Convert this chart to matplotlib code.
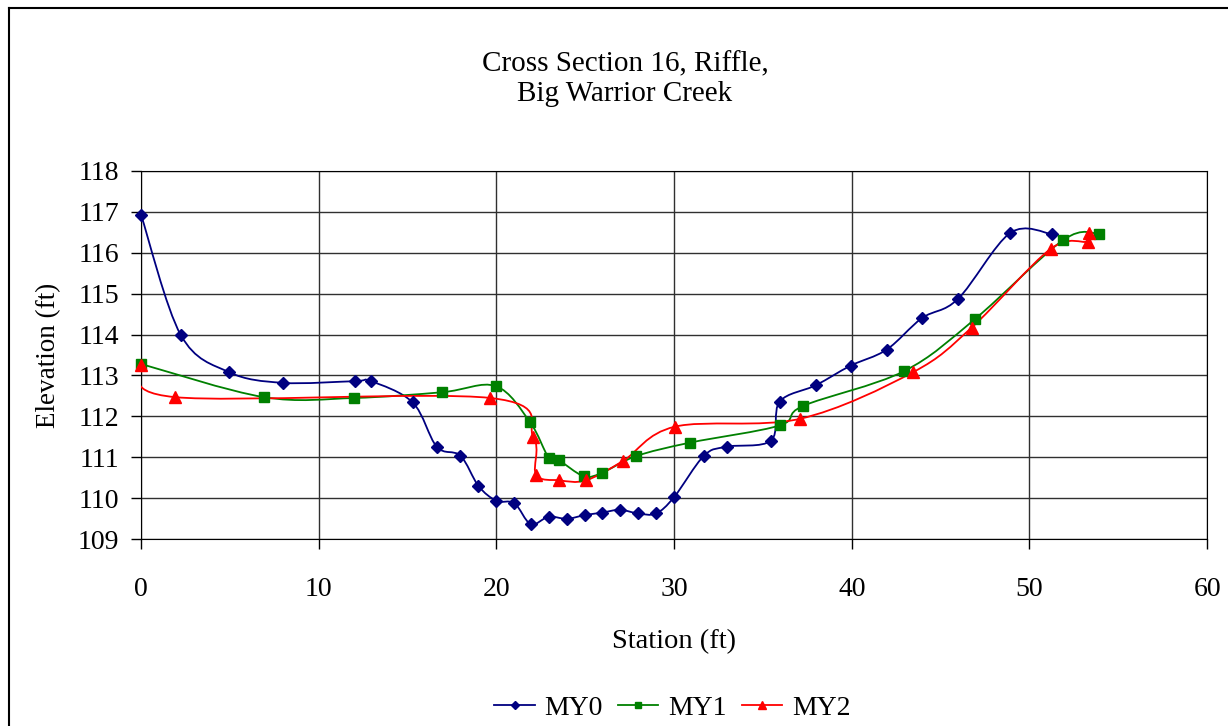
import numpy as np
import matplotlib
matplotlib.use('Agg')
import matplotlib.pyplot as plt
from matplotlib.path import Path
from matplotlib.patches import PathPatch
from matplotlib.lines import Line2D

plt.rcParams['font.family'] = ['Liberation Serif', 'DejaVu Serif']

# Dados
my0_x = [0, 2.23, 4.95, 7.97, 12.03, 12.94, 15.29, 16.64, 17.97, 18.99, 20.0, 21.01,
         21.93, 22.94, 23.96, 24.97, 25.94, 26.96, 27.97, 28.98, 30.0, 31.68, 32.95,
         35.45, 35.94, 37.97, 39.94, 41.96, 43.95, 45.98, 48.92, 51.27]
my0_y = [116.92, 113.99, 113.08, 112.82, 112.86, 112.86, 112.34, 111.26, 111.04, 110.30,
         109.94, 109.88, 109.37, 109.55, 109.50, 109.59, 109.65, 109.72, 109.63, 109.63,
         110.03, 111.04, 111.26, 111.41, 112.36, 112.76, 113.24, 113.63, 114.40, 114.87,
         116.48, 116.45]

my1_x = [0, 6.92, 11.99, 16.94, 19.96, 21.89, 22.94, 23.51, 24.91, 25.93, 27.86, 30.9,
         35.94, 37.28, 42.92, 46.94, 51.91, 53.92]
my1_y = [113.28, 112.47, 112.45, 112.59, 112.74, 111.86, 110.99, 110.93, 110.54, 110.62,
         111.03, 111.36, 111.78, 112.26, 113.10, 114.38, 116.31, 116.46]

my2_x = [0, 1.93, 19.65, 22.08, 22.23, 23.54, 25.04, 27.15, 30.05, 37.07, 43.45, 46.75,
         51.19, 53.29, 53.37]
my2_y = [113.25, 112.47, 112.45, 111.50, 110.58, 110.44, 110.44, 110.92, 111.75, 111.94,
         113.08, 114.17, 116.09, 116.27, 116.47]

series = [('MY0', my0_x, my0_y, '#000080', 'D', 6.0),
          ('MY1', my1_x, my1_y, '#008000', 's', 6.6),
          ('MY2', my2_x, my2_y, '#FF0000', '^', 8.2)]


def curva_suave(x, y):
    # Bezier tipo Catmull-Rom (linha suavizada do Excel)
    p = np.column_stack([x, y]).astype(float)
    n = len(p)
    verts = [p[0]]
    codes = [Path.MOVETO]
    for i in range(n - 1):
        p0 = p[i - 1] if i > 0 else p[i]
        p3 = p[i + 2] if i + 2 < n else p[i + 1]
        c1 = p[i] + (p[i + 1] - p0) / 6.0
        c2 = p[i + 1] - (p3 - p[i]) / 6.0
        verts += [c1, c2, p[i + 1]]
        codes += [Path.CURVE4] * 3
    return Path(verts, codes)


fig = plt.figure(figsize=(12.28, 7.26), dpi=100)
ax = fig.add_axes([0.1149, 0.2572, 0.8681, 0.5077])

handles = []
for nome, xs, ys, cor, mk, ms in series:
    ax.add_patch(PathPatch(curva_suave(xs, ys), facecolor='none', edgecolor=cor, lw=1.3, zorder=3))
    ax.plot(xs, ys, linestyle='none', marker=mk, color=cor, markersize=ms, zorder=4, clip_on=False)
    handles.append(Line2D([], [], color=cor, lw=1.3, marker=mk, markersize=ms * 0.75, label=nome))

ax.set_xlim(0, 60)
ax.set_ylim(109, 118)
ax.set_xticks(range(0, 61, 10))
ax.set_yticks(range(109, 119))
ax.grid(True, color='#303030', linewidth=1.0)
ax.set_axisbelow(True)
for s in ax.spines.values():
    s.set_color('black')
ax.tick_params(axis='both', labelsize=20, length=7, width=1, direction='out')
ax.tick_params(axis='x', pad=20)
ax.tick_params(axis='y', pad=9)

ax.set_xlabel('Station (ft)', fontsize=20.5, labelpad=20)
ax.set_ylabel('Elevation (ft)', fontsize=19.5, labelpad=12)

fig.text(0.509, 0.912, 'Cross Section 16, Riffle,', ha='center', va='center', fontsize=21)
fig.text(0.509, 0.871, 'Big Warrior Creek', ha='center', va='center', fontsize=21)

fig.legend(handles=handles, loc='center', bbox_to_anchor=(0.5475, 0.025), ncol=3,
           frameon=False, fontsize=20, handlelength=1.45, columnspacing=0.55, handletextpad=0.35)

# moldura da figura (só esquerda e topo visíveis)
fig.add_artist(Line2D([0.0073, 0.0073], [0, 0.989], transform=fig.transFigure, color='black', lw=1.5))
fig.add_artist(Line2D([0.0073, 1], [0.989, 0.989], transform=fig.transFigure, color='black', lw=1.5))

fig.savefig('out.png', dpi=100)
